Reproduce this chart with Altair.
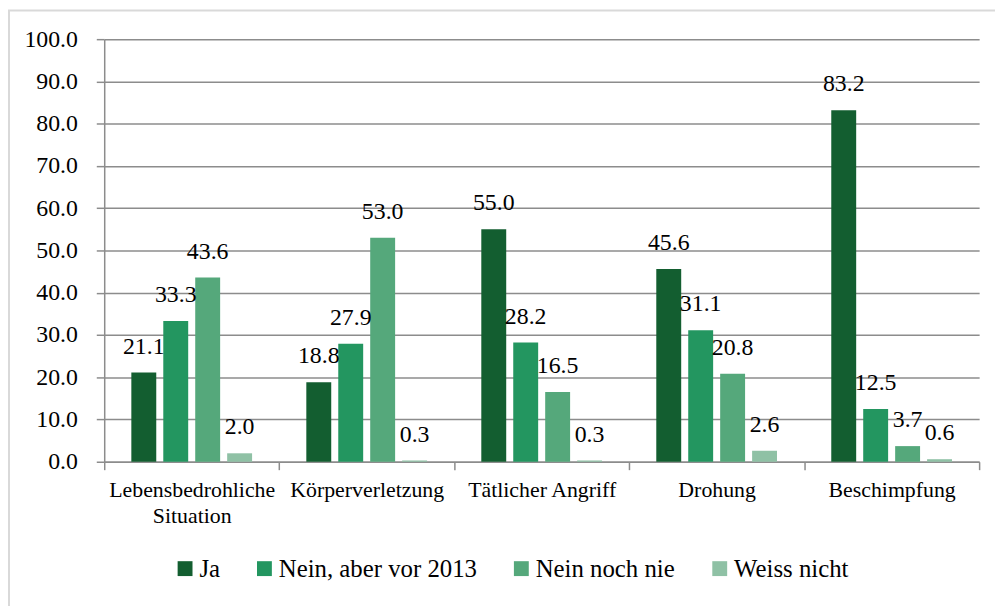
import altair as alt
import pandas as pd

categories = ["Lebensbedrohliche Situation", "Körperverletzung", "Tätlicher Angriff", "Drohung", "Beschimpfung"]
series = ["Ja", "Nein, aber vor 2013", "Nein noch nie", "Weiss nicht"]
ja = [21.1, 18.8, 55.0, 45.6, 83.2]
nein_vor_2013 = [33.3, 27.9, 28.2, 31.1, 12.5]
nein_noch_nie = [43.6, 53.0, 16.5, 20.8, 3.7]
weiss_nicht = [2.0, 0.3, 0.3, 2.6, 0.6]
colors = ["#135E30", "#239660", "#55A87B", "#8FC1A5"]
y_ticks = [0, 10, 20, 30, 40, 50, 60, 70, 80, 90, 100]

rows = []
for s, vals in zip(series, [ja, nein_vor_2013, nein_noch_nie, weiss_nicht]):
    for c, v in zip(categories, vals):
        rows.append({"Kategorie": c, "Antwort": s, "Wert": v})
df = pd.DataFrame(rows)

FONT = "Liberation Serif"
GRID = "#8c8c8c"
W, H = 882, 426

base = alt.Chart(df).encode(
    x=alt.X(
        "Kategorie:N",
        sort=categories,
        scale=alt.Scale(paddingInner=0, paddingOuter=0),
        axis=alt.Axis(
            title=None,
            labelAngle=0,
            labelFont=FONT,
            labelFontSize=22,
            labelColor="black",
            labelPadding=10,
            labelLineHeight=26,
            labelExpr="datum.label == 'Lebensbedrohliche Situation' ? ['Lebensbedrohliche', 'Situation'] : datum.label",
            tickBand="extent",
            tickSize=8,
            tickColor=GRID,
            tickWidth=1.5,
            domainColor=GRID,
            domainWidth=1.5,
            grid=False,
        ),
    ),
    xOffset=alt.XOffset(
        "Antwort:N",
        sort=series,
        scale=alt.Scale(paddingInner=0.22, paddingOuter=0.849),
    ),
    y=alt.Y(
        "Wert:Q",
        scale=alt.Scale(domain=[0, 100], nice=False),
        axis=alt.Axis(
            title=None,
            values=y_ticks,
            format=".1f",
            labelFont=FONT,
            labelFontSize=24,
            labelColor="black",
            labelPadding=19,
            tickSize=8,
            tickColor=GRID,
            tickWidth=1.5,
            domainColor=GRID,
            domainWidth=1.5,
            grid=True,
            gridColor=GRID,
            gridWidth=1.5,
        ),
    ),
)

bars = base.mark_bar().encode(
    color=alt.Color(
        "Antwort:N",
        sort=series,
        scale=alt.Scale(domain=series, range=colors),
        legend=alt.Legend(
            title=None,
            orient="none",
            direction="horizontal",
            legendX=69,
            legendY=521,
            symbolType="square",
            symbolSize=225,
            symbolStrokeWidth=0,
            symbolOpacity=1,
            labelFont=FONT,
            labelFontSize=25,
            labelColor="black",
            labelOffset=2,
            columnPadding=32,
            labelLimit=400,
        ),
    )
)

labels = base.mark_text(
    baseline="alphabetic",
    align="center",
    dy=-19,
    font=FONT,
    fontSize=24,
    color="black",
).encode(text=alt.Text("Wert:Q", format=".1f"))

border = alt.Chart(pd.DataFrame({"b": [0]})).mark_rect(
    filled=False, stroke="#d9d9d9", strokeWidth=2
).encode(
    x=alt.value(-96), x2=alt.value(W + 200), y=alt.value(-29), y2=alt.value(H + 400)
)

chart = (
    alt.layer(border, bars, labels)
    .properties(
        width=W,
        height=H,
        autosize=alt.AutoSizeParams(type="none"),
        padding={"left": 97, "top": 29, "right": 16, "bottom": 143},
        background="white",
    )
    .configure_view(stroke=None)
)

chart.save("out.html", embed_options={"renderer": "svg", "actions": False})
